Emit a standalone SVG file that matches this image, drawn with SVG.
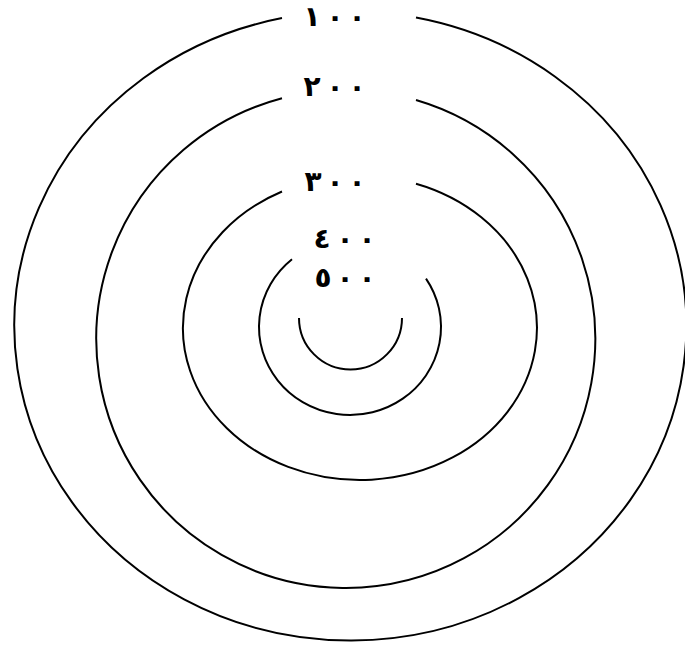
<svg xmlns="http://www.w3.org/2000/svg" width="685" height="645" viewBox="0 0 685 645">
<style>
.ring{fill:none;stroke:#000;stroke-width:2}
.lbl{font-family:"DejaVu Sans",sans-serif;font-weight:bold;font-size:28px;fill:#000;text-anchor:middle}
</style>
<rect width="685" height="645" fill="#fff"/>
<g id="connectors"></g>
<g id="ring100">
<path class="ring" d="M 282 18.1 A 336 314.5 0 1 0 416 17.6"/>
<text class="lbl" x="312 335 357" y="26">١٠٠</text>
</g>
<g id="ring200">
<path class="ring" d="M 282 98.2 A 249.5 249 0 1 0 416 100"/>
<text class="lbl" x="312 335 357" y="96">٢٠٠</text>
</g>
<g id="ring300">
<path class="ring" d="M 282 191.5 A 177 152 0 1 0 416 183.8"/>
<text class="lbl" x="313 335 357" y="191">٣٠٠</text>
</g>
<g id="ring400">
<path class="ring" d="M 292 259.2 A 91 88 0 1 0 426 278.6"/>
<text class="lbl" x="322 345 367" y="248">٤٠٠</text>
</g>
<g id="ring500">
<path class="ring" d="M 299 318 A 51.5 51.5 0 0 0 402 318"/>
<text class="lbl" x="323 345 367" y="287">٥٠٠</text>
</g>
</svg>
